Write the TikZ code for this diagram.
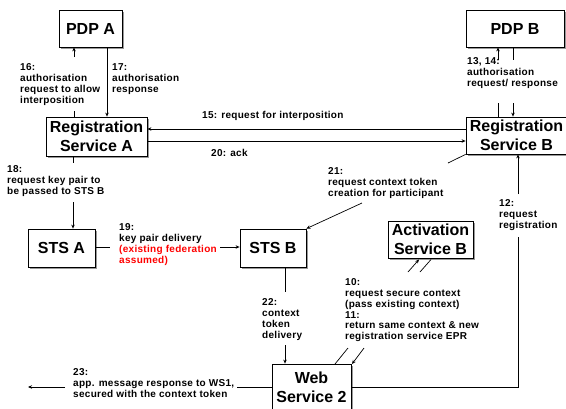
\documentclass[tikz,border=0pt]{standalone}
\usepackage{fontspec}
\setmainfont{Liberation Sans}
\usetikzlibrary{arrows.meta,shadows}

\begin{document}
\begin{tikzpicture}[x=1pt,y=-1pt,
  box/.style={draw=black, line width=0.8pt, fill=white,
    font=\fontsize{16}{19}\selectfont\bfseries, align=center, inner sep=0pt,
    drop shadow={shadow xshift=1.5pt, shadow yshift=-1.5pt, fill=black!40, opacity=1}},
  lbl/.style={font=\fontsize{10}{10.8}\selectfont\bfseries\addfontfeatures{LetterSpace=3}, align=left,
    inner sep=0pt, anchor=north west},
  conn/.style={line width=0.7pt, draw=black},
  arr/.style={conn, -{Stealth[length=4pt,width=3.5pt]}},
]
\useasboundingbox (0,0) rectangle (566,408);

% ---------- components ----------
\node[box, minimum width=63pt,  minimum height=37pt] (pdpA) at (90.5,28.5)  {PDP A};
\node[box, minimum width=101pt, minimum height=39pt] (regA) at (96.5,136.5) {Registration\\Service A};
\node[box, minimum width=98pt,  minimum height=37pt] (pdpB) at (515,28.5)   {PDP B};
\node[box, minimum width=101pt, minimum height=37pt] (regB) at (516.5,135.5) {Registration\\Service B};
\node[box, minimum width=67pt,  minimum height=38pt] (stsA) at (61.5,248)   {STS A};
\node[box, minimum width=66pt,  minimum height=38pt] (stsB) at (273,248)    {STS B};
\node[box, minimum width=85pt,  minimum height=37pt] (actB) at (430.5,239.5) {Activation\\Service B};
\node[box, minimum width=79pt,  minimum height=47pt] (ws2)  at (311.5,387.5) {Web\\Service 2};

% ---------- reference coordinates for the connectors ----------
\coordinate (x16) at (74,0);   \coordinate (g16a) at (74,111);  \coordinate (g16b) at (74,57);
\coordinate (x17) at (107,0);
\coordinate (y15) at (0,129);
\coordinate (y20) at (0,141);
\coordinate (x13) at (498,0);  \coordinate (g13a) at (498,103); \coordinate (g13b) at (498,60);
\coordinate (x14) at (513,0);  \coordinate (g14a) at (513,60);  \coordinate (g14b) at (513,103);
\coordinate (x18) at (73,0);   \coordinate (g18a) at (73,163);  \coordinate (g18b) at (73,202);
\coordinate (y19) at (0,247);  \coordinate (g19a) at (110,247); \coordinate (g19b) at (220,247);
\coordinate (g21a) at (448,163); \coordinate (g21b) at (362,203);
\coordinate (x22) at (285,0);  \coordinate (g22a) at (285,292); \coordinate (g22b) at (285,345);
\coordinate (y23) at (0,387);  \coordinate (g23a) at (237,387); \coordinate (g23b) at (65,387);
\coordinate (end23) at (28,387);
\coordinate (x12) at (518,0);  \coordinate (g12a) at (518,237); \coordinate (g12b) at (518,194);
\coordinate (p10a) at (335,364); \coordinate (p10b) at (348,348);
\coordinate (p10c) at (408,272); \coordinate (p10d) at (419,259.5);
\coordinate (p11a) at (431,259.5); \coordinate (p11b) at (420,272);
\coordinate (p11c) at (364,348); \coordinate (p11d) at (352,364);

% ---------- connectors ----------
% 16 / 17
\draw[conn] (x16 |- regA.north) -- (g16a);
\draw[arr]  (g16b) -- (x16 |- pdpA.south);
\draw[arr]  (x17 |- pdpA.south) -- (x17 |- regA.north);
% 15 / 20
\draw[arr]  (regB.west |- y15) -- (regA.east |- y15);
\draw[arr]  (regA.east |- y20) -- (regB.west |- y20);
% 13, 14
\draw[conn] (x13 |- regB.north) -- (g13a);
\draw[arr]  (g13b) -- (x13 |- pdpB.south);
\draw[conn] (x14 |- pdpB.south) -- (g14a);
\draw[arr]  (g14b) -- (x14 |- regB.north);
% 18
\draw[conn] (x18 |- regA.south) -- (g18a);
\draw[arr]  (g18b) -- (x18 |- stsA.north);
% 19
\draw[conn] (stsA.east |- y19) -- (g19a);
\draw[arr]  (g19b) -- (stsB.west |- y19);
% 21
\draw[conn] (regB.south west) -- (g21a);
\draw[arr]  (g21b) -- (stsB.north east);
% 22
\draw[conn] (x22 |- stsB.south) -- (g22a);
\draw[arr]  (g22b) -- (x22 |- ws2.north);
% 23
\draw[conn] (ws2.west |- y23) -- (g23a);
\draw[arr]  (g23b) -- (end23);
% 12
\draw[conn] (ws2.east |- y23) -| (g12a);
\draw[arr]  (g12b) -- (x12 |- regB.south);
% 10 / 11
\draw[conn] (p10a) -- (p10b);
\draw[arr]  (p10c) -- (p10d);
\draw[conn] (p11a) -- (p11b);
\draw[arr]  (p11c) -- (p11d);

% ---------- message labels ----------
\node[lbl] (l16) at (20,63.5) {16:\\authorisation\\request to allow\\interposition};
\node[lbl] (l17) at (112,63.5) {17:\\authorisation\\response};
\node[lbl, anchor=base west] (l15) at (202,118.5) {15: request for interposition};
\node[lbl, anchor=base west] (l20) at (211,156.5) {20: ack};
\node[lbl] (l13) at (467,57.5) {13, 14:\\authorisation\\request/ response};
\node[lbl] (l18) at (7,165.5) {18:\\request key pair to\\be passed to STS B};
\node[lbl] (l19) at (119,223.5) {19:\\key pair delivery\\\textcolor{red}{(existing federation}\\\textcolor{red}{assumed)}};
\node[lbl] (l21) at (328,167.5) {21:\\request context token\\creation for participant};
\node[lbl] (l12) at (499,199.5) {12:\\request\\registration};
\node[lbl] (l22) at (262,298.5) {22:\\context\\token\\delivery};
\node[lbl] (l23) at (73,368.5) {23:\\app. message response to WS1,\\secured with the context token};
\node[lbl] (l10) at (345,278.5) {10:\\request secure context\\(pass existing context)\\11:\\return same context \& new\\registration service EPR};
\end{tikzpicture}
\end{document}
